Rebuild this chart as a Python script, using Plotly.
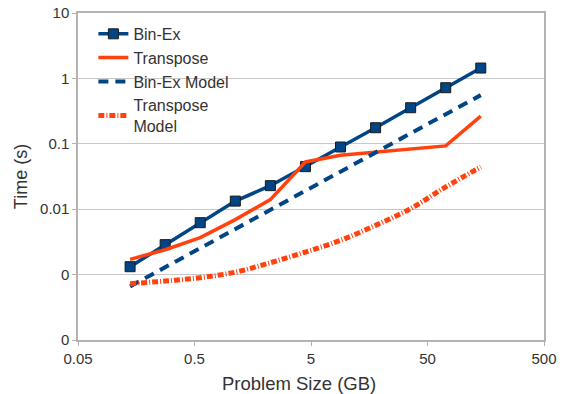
import plotly.graph_objects as go

problem_size = [0.14, 0.28, 0.56, 1.12, 2.24, 4.48, 8.96, 17.92, 35.84, 71.68, 143.36]
bin_ex = [0.00132, 0.00287, 0.00622, 0.0133, 0.0229, 0.0447, 0.0893, 0.176, 0.356, 0.72, 1.44]
transpose = [0.00171, 0.0024, 0.00367, 0.00693, 0.0140, 0.0528, 0.0669, 0.0751, 0.0818, 0.0929, 0.265]
bin_ex_model = [0.00066, 0.00129, 0.00254, 0.00497, 0.00975, 0.0191, 0.0375, 0.0735, 0.144, 0.283, 0.555]
transpose_model = [0.000726, 0.000796, 0.000897, 0.00109, 0.00152, 0.00221, 0.00334, 0.00566, 0.0102, 0.0219, 0.0443]

y_tickvals = [0.0001, 0.001, 0.01, 0.1, 1, 10]
y_ticktext = ["0", "0", "0.01", "0.1", "1", "10"]
x_tickvals = [0.05, 0.5, 5, 50, 500]
x_ticktext = ["0.05", "0.5", "5", "50", "500"]

BLUE = "#004586"
ORANGE = "#ff420e"
FONT = "Liberation Sans, Arial, sans-serif"
TXT = "#333333"

fig = go.Figure()
fig.add_trace(go.Scatter(x=problem_size, y=bin_ex, name="Bin-Ex", mode="lines+markers",
                         line=dict(color=BLUE, width=3.5),
                         marker=dict(symbol="square", size=10, color=BLUE,
                                     line=dict(color="#1a1a1a", width=1))))
fig.add_trace(go.Scatter(x=problem_size, y=transpose, name="Transpose", mode="lines",
                         line=dict(color=ORANGE, width=3.5)))
fig.add_trace(go.Scatter(x=problem_size, y=bin_ex_model, name="Bin-Ex Model", mode="lines",
                         line=dict(color=BLUE, width=4, dash="10px,7px")))
fig.add_trace(go.Scatter(x=problem_size, y=transpose_model, name="Transpose<br>Model", mode="lines",
                         line=dict(color=ORANGE, width=5, dash="6px,2px,1px,2px", shape="spline")))

axis_common = dict(showline=True, linecolor="#b3b3b3", linewidth=1.5,
                   ticks="outside", ticklen=4, tickcolor="#b3b3b3", automargin=False,
                   tickfont=dict(family=FONT, size=15, color=TXT))

fig.update_layout(
    width=566, height=394,
    margin=dict(l=78, r=22, t=13, b=54),
    paper_bgcolor="white", plot_bgcolor="white",
    font=dict(family=FONT, color=TXT),
    showlegend=True,
    legend=dict(x=0.033, y=0.988, xanchor="left", yanchor="top",
                bgcolor="rgba(0,0,0,0)", font=dict(family=FONT, size=16, color=TXT),
                tracegroupgap=0, itemwidth=30),
    xaxis=dict(type="log", range=[-1.30103, 2.69897], tickvals=x_tickvals, ticktext=x_ticktext,
               showgrid=False, mirror=True, **axis_common),
    yaxis=dict(type="log", range=[-4, 1], tickvals=y_tickvals, ticktext=y_ticktext,
               showgrid=True, gridcolor="#c8c8c8", gridwidth=1.2, mirror=True,
               title=dict(text="Time (s)", font=dict(family=FONT, size=18, color=TXT),
                          standoff=8),
               **axis_common),
    annotations=[dict(text="Problem Size (GB)", xref="paper", yref="paper",
                      x=0.474, y=-0.1315, xanchor="center", yanchor="middle",
                      showarrow=False, font=dict(family=FONT, size=18.5, color=TXT))],
)

fig.write_html("out.html", config={"displayModeBar": False},
               post_script="document.body.style.margin='0';document.body.style.overflow='hidden';")
